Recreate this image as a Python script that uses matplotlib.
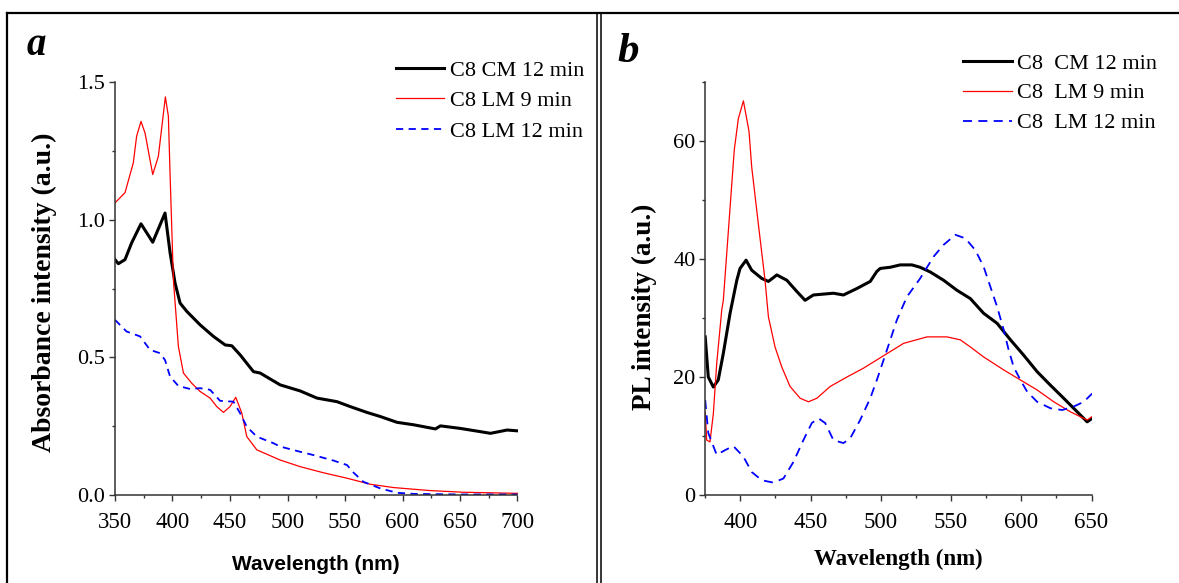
import matplotlib
matplotlib.use('Agg')
import matplotlib.pyplot as plt
from matplotlib.lines import Line2D
from matplotlib.ticker import MultipleLocator, FormatStrFormatter

# ---- panel a : absorbance ----
abs_cm12_wl = [350, 352.9, 358.7, 364.5, 372.6, 382.8, 393.5, 397.9, 402.2, 406.6, 412.4,
               424, 435.6, 445.8, 451.6, 458.8, 470.4, 476.2, 493.6, 511, 525.6, 543,
               554.6, 569, 580.7, 595.2, 609.7, 628.6, 633, 650, 667.8, 676.5, 691, 700]
abs_cm12 = [0.855, 0.84, 0.855, 0.916, 0.985, 0.918, 1.024, 0.88, 0.77, 0.697, 0.667,
            0.618, 0.576, 0.545, 0.542, 0.509, 0.448, 0.443, 0.40, 0.378, 0.352, 0.339,
            0.321, 0.30, 0.285, 0.264, 0.255, 0.24, 0.251, 0.242, 0.23, 0.224, 0.236, 0.233]

abs_lm9_wl = [350, 358.7, 365.9, 368.8, 372.6, 376.1, 382.8, 387.7, 393.8, 396.4, 398,
              400.8, 405.1, 409.5, 416.7, 424, 432.7, 438.5, 444.3, 450, 455, 460.3,
              464.6, 473.3, 493.6, 511, 531, 551.7, 572, 592.3, 624, 653, 700]
abs_lm9 = [1.061, 1.098, 1.206, 1.303, 1.357, 1.315, 1.164, 1.23, 1.446, 1.376, 1.15,
           0.78, 0.54, 0.443, 0.406, 0.376, 0.352, 0.321, 0.30, 0.321, 0.355, 0.297,
           0.212, 0.164, 0.127, 0.103, 0.081, 0.061, 0.039, 0.027, 0.016, 0.01, 0.006]

abs_lm12_wl = [350, 360, 371.8, 380.5, 389.2, 393.5, 397.9, 405.1, 415.3, 424, 432.7,
               441.4, 453, 458.8, 464.6, 473.3, 487.8, 493.6, 511, 522.6, 540, 551.7,
               557.5, 566, 580.7, 595.2, 610, 650, 700]
abs_lm12 = [0.636, 0.594, 0.576, 0.527, 0.515, 0.49, 0.43, 0.396, 0.385, 0.388, 0.382,
            0.342, 0.339, 0.297, 0.248, 0.212, 0.188, 0.176, 0.157, 0.145, 0.125, 0.109,
            0.081, 0.048, 0.024, 0.008, 0.004, 0.002, 0.002]

# ---- panel b : PL ----
pl_cm12_wl = [375, 377.2, 380.8, 384.3, 387.9, 392.7, 397.5, 399.8, 404.1, 408.1, 415.3,
              420, 426, 433.1, 440.2, 446.1, 452, 466.3, 473.4, 483, 492.5, 497.2,
              499.6, 506.7, 513.8, 522.1, 528, 535.2, 544.7, 554.2, 563.7, 573.2,
              582.8, 592.3, 601.7, 611.3, 620.8, 630.2, 639.8, 646.9, 650.5]
pl_cm12 = [26.8, 20, 18.3, 19.5, 24, 30.8, 36.4, 38.4, 39.8, 38.1, 36.7,
           36.2, 37.3, 36.4, 34.5, 33, 33.9, 34.2, 33.9, 35, 36.2, 37.9,
           38.4, 38.6, 39, 39, 38.6, 37.8, 36.4, 34.7, 33.3, 30.8,
           29.1, 26.3, 23.7, 20.9, 18.6, 16.4, 14.1, 12.4, 13]

pl_lm9_wl = [375, 376.1, 378.4, 380.8, 383.2, 386.8, 387.9, 395.7, 398.6, 402.2, 406.2,
             408.1, 412.8, 417.6, 420, 424.7, 429.5, 435.4, 442.6, 448.5, 454.5, 464,
             475.9, 487.7, 497.2, 506.7, 516.2, 532.9, 547.1, 556.6, 563.7, 573.2,
             587.5, 599.4, 611.3, 623.1, 635, 646.9, 650.5]
pl_lm9 = [14, 9.3, 9.0, 13.8, 22.3, 31.4, 33, 58.5, 63.8, 66.8, 61.6,
          55.6, 46, 36.4, 30.2, 25.1, 21.7, 18.4, 16.4, 15.8, 16.4, 18.4,
          20, 21.5, 22.9, 24.3, 25.7, 26.8, 26.8, 26.3, 25.1, 23.4,
          21.2, 19.5, 17.8, 15.8, 14.1, 12.7, 13.3]

pl_lm12_wl = [375, 377.2, 383.2, 389.1, 395, 402.2, 408.1, 415.3, 423.5, 430.7, 437.8,
              444.9, 450.9, 455.6, 460.4, 466.3, 473.4, 478.2, 485.3, 492.5, 497.2,
              504.4, 511.5, 518.6, 528, 537.6, 544.7, 553.1, 560.2, 567.3, 573.2, 578,
              582.8, 587.5, 591, 594.6, 599.4, 604.2, 611.3, 620.8, 629.1, 637.4,
              644.5, 650.5]
pl_lm12 = [16.1, 10.5, 6.8, 7.6, 8.3, 6.5, 3.9, 2.5, 2.1, 2.8, 5.6,
           9.3, 12.2, 13, 12.2, 9.3, 8.8, 9.6, 12.7, 16.4, 19.5,
           24.6, 29.7, 33.6, 36.7, 40.4, 42.4, 44.1, 43.5, 41.5, 38.7, 35.3,
           31.9, 28, 24.6, 21.7, 19.5, 17.5, 15.8, 14.7, 14.4, 15,
           15.8, 17.2]

labels_a = ['C8 CM 12 min', 'C8 LM 9 min', 'C8 LM 12 min']
labels_b = ['C8  CM 12 min', 'C8  LM 9 min', 'C8  LM 12 min']

W, H = 1179, 583
serif = 'Liberation Serif'

fig = plt.figure(figsize=(W / 100, H / 100), dpi=100)


def px_axes(x0, x1, y_top, y_bot):
    return fig.add_axes([x0 / W, 1 - y_bot / H, (x1 - x0) / W, (y_bot - y_top) / H])


def style(ax):
    for s in ['top', 'right']:
        ax.spines[s].set_visible(False)
    for s in ['left', 'bottom']:
        ax.spines[s].set_linewidth(1.1)
        ax.spines[s].set_color('#333333')
    ax.tick_params(which='major', direction='out', length=4, width=1.0, color='#333333',
                   labelsize=16, pad=3)
    ax.tick_params(which='minor', direction='out', length=2.5, width=1.0, color='#333333')
    ax.tick_params(axis='x', which='major', pad=8, labelsize=16.5)
    for lab in ax.get_xticklabels() + ax.get_yticklabels():
        lab.set_fontfamily(serif)


axa = px_axes(115, 517.5, 82, 495)
axa.plot(abs_cm12_wl, abs_cm12, color='black', lw=2.2, label=labels_a[0])
axa.plot(abs_lm9_wl, abs_lm9, color='red', lw=0.9, label=labels_a[1])
axa.plot(abs_lm12_wl, abs_lm12, color='blue', lw=1.3, dashes=(4, 3), label=labels_a[2])
axa.set_xlim(350, 700)
axa.set_ylim(0, 1.5)
axa.xaxis.set_major_locator(MultipleLocator(50))
axa.xaxis.set_minor_locator(MultipleLocator(25))
axa.yaxis.set_major_locator(MultipleLocator(0.5))
axa.yaxis.set_minor_locator(MultipleLocator(0.25))
axa.yaxis.set_major_formatter(FormatStrFormatter('%.1f'))
style(axa)
axa.set_xlabel('Wavelength (nm)', fontfamily='Liberation Sans', fontweight='bold', fontsize=15)
axa.xaxis.set_label_coords(0.5, -0.145)
axa.set_ylabel('Absorbance intensity (a.u.)', fontfamily=serif, fontweight='bold', fontsize=20)
axa.yaxis.set_label_coords(-0.145, 0.49)
axa.legend(loc='upper left', bbox_to_anchor=(396 / W, 1 - 60 / H), bbox_transform=fig.transFigure,
           frameon=False, prop={'family': serif, 'size': 16}, handlelength=2.15,
           handletextpad=0.3, labelspacing=0.45, borderpad=0, borderaxespad=0)

axb = px_axes(705.2, 1091.5, 82, 495)
axb.plot(pl_cm12_wl, pl_cm12, color='black', lw=2.2, label=labels_b[0])
axb.plot(pl_lm9_wl, pl_lm9, color='red', lw=0.9, label=labels_b[1])
axb.plot(pl_lm12_wl, pl_lm12, color='blue', lw=1.3, dashes=(5, 3.5), label=labels_b[2])
axb.set_xlim(375, 650)
axb.set_ylim(0, 70)
axb.xaxis.set_major_locator(MultipleLocator(50))
axb.xaxis.set_minor_locator(MultipleLocator(25))
axb.yaxis.set_major_locator(MultipleLocator(20))
axb.yaxis.set_minor_locator(MultipleLocator(10))
style(axb)
axb.set_xlabel('Wavelength (nm)', fontfamily=serif, fontweight='bold', fontsize=16.5)
axb.xaxis.set_label_coords(0.5, -0.13)
axb.set_ylabel('PL intensity (a.u.)', fontfamily=serif, fontweight='bold', fontsize=19.5)
axb.yaxis.set_label_coords(-0.125, 0.456)
axb.legend(loc='upper left', bbox_to_anchor=(963 / W, 1 - 53 / H), bbox_transform=fig.transFigure,
           frameon=False, prop={'family': serif, 'size': 16}, handlelength=2.2,
           handletextpad=0.25, labelspacing=0.42, borderpad=0, borderaxespad=0)

# panel letters
fig.text(27 / W, 1 - 55 / H, 'a', fontfamily=serif, fontweight='bold', fontstyle='italic',
         fontsize=28, va='baseline')
fig.text(617 / W, 1 - 62 / H, 'b', fontfamily=serif, fontweight='bold', fontstyle='italic',
         fontsize=31, va='baseline')

# frame lines
ytop = 1 - 13 / H
fig.add_artist(Line2D([7 / W, 1], [ytop, ytop], transform=fig.transFigure, color='black', lw=1.6))
fig.add_artist(Line2D([7 / W, 7 / W], [0, ytop], transform=fig.transFigure, color='black', lw=1.6))
for xd in [597, 601]:
    fig.add_artist(Line2D([xd / W, xd / W], [0, ytop], transform=fig.transFigure, color='black', lw=1.1))

fig.savefig('out.png', dpi=100)
